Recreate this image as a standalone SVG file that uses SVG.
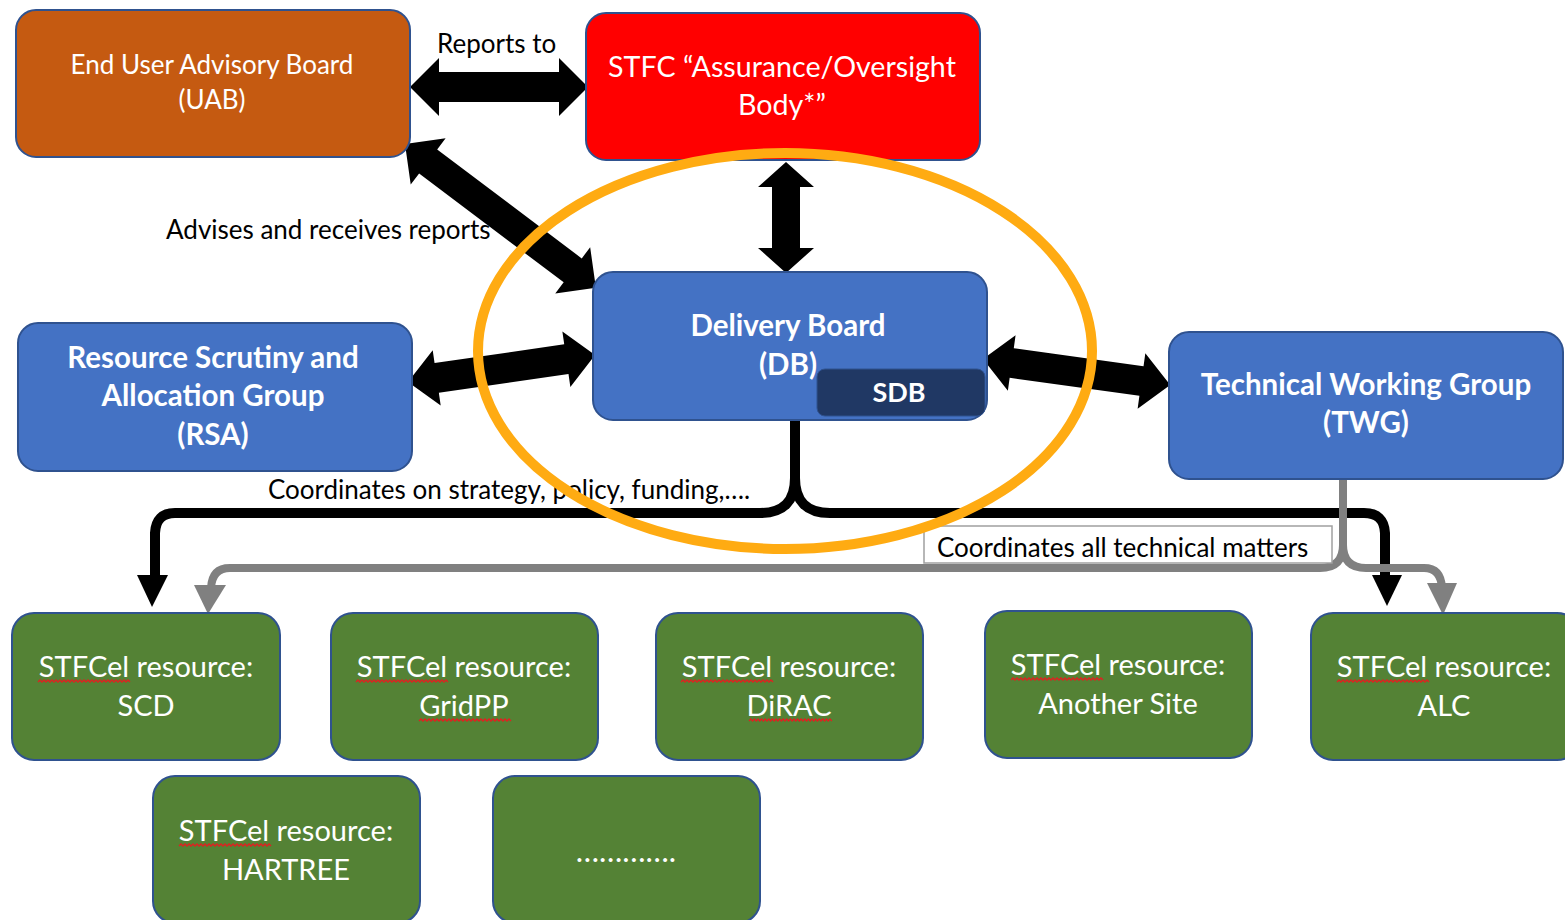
<svg xmlns="http://www.w3.org/2000/svg" width="1565" height="920" viewBox="0 0 1565 920">
<style>
.box{stroke:#2F528F;stroke-width:2}
.orange{fill:#C55A11}
.red{fill:#FF0000}
.blue{fill:#4472C4}
.green{fill:#548235}
.t{font-family:Lato,"Liberation Sans",sans-serif;fill:#fff;text-anchor:middle}
.reg{font-size:26px}
.bold{font-size:29.5px;font-weight:bold}
.g{font-size:29px}
.lbl{font-family:Lato,"Liberation Sans",sans-serif;font-size:26px;fill:#000}
.arr{fill:#000}
.blk{fill:none;stroke:#000;stroke-width:10}
.gry{fill:none;stroke:#808080;stroke-width:8}
.sq{fill:none;stroke:#E02020;stroke-width:1.4}
</style>
<defs>
<path id="squig" d="M0,2 l2,-2 l2,2 l2,-2 l2,2 l2,-2 l2,2 l2,-2 l2,2 l2,-2 l2,2 l2,-2 l2,2 l2,-2 l2,2 l2,-2 l2,2 l2,-2 l2,2 l2,-2 l2,2 l2,-2 l2,2 l2,-2 l2,2 l2,-2 l2,2 l2,-2 l2,2 l2,-2 l2,2 l2,-2 l2,2 l2,-2 l2,2 l2,-2 l2,2 l2,-2 l2,2 l2,-2 l2,2 l2,-2 l2,2 l2,-2 l2,2 l2,-2 l2,2"/>
</defs>

<g id="connectors">
<!-- coordination lines -->
<path class="blk" d="M795,420 V478 Q795,513 760,513 H175 Q156,513 155,533 V580"/>
<path class="blk" d="M795,420 V478 Q795,513 830,513 H1364 Q1384,513 1385,533 V580"/>
<polygon class="arr" points="137,575 168,575 152,607"/>
<polygon class="arr" points="1372,575 1402,575 1387,606"/>
<path class="gry" d="M1343,479 V545 Q1343,568 1320,568 H230 Q212,568 211,588"/>
<path class="gry" d="M1343,479 V545 Q1343,568 1366,568 H1424 Q1441,568 1442,588"/>
<polygon fill="#808080" points="194,585 226,585 208,614"/>
<polygon fill="#808080" points="1427,583 1457,583 1443,615"/>
<!-- double arrows -->
<polygon class="arr" transform="translate(410,87)" points="0,0 29,-29 29,-15 149,-15 149,-29 178,0 149,29 149,15 29,15 29,29"/>
<polygon class="arr" transform="translate(405,144) rotate(37)" points="0,0 29,-29 29,-15 210,-15 210,-29 239,0 210,29 210,15 29,15 29,29"/>
<polygon class="arr" transform="translate(786,162) rotate(90)" points="0,0 25,-28 25,-14 86,-14 86,-28 111,0 86,28 86,14 25,14 25,28"/>
<polygon class="arr" transform="translate(408,382) rotate(-8.2)" points="0,0 29,-28 29,-15 160,-15 160,-28 189,0 160,28 160,15 29,15 29,28"/>
<polygon class="arr" transform="translate(983,359) rotate(7.9)" points="0,0 29,-28 29,-15 160,-15 160,-28 189,0 160,28 160,15 29,15 29,28"/>
</g>

<g id="labels">
<text class="lbl" x="437" y="53">Reports to</text>
<text class="lbl" x="166" y="239">Advises and receives reports</text>
<text class="lbl" x="268" y="499">Coordinates on strategy, policy, funding,….</text>
<rect x="924" y="526" width="408" height="37" fill="#fff" stroke="#A0A0A0" stroke-width="1.5"/>
<text class="lbl" x="937" y="557">Coordinates all technical matters</text>
</g>

<g id="uab">
<rect class="box orange" x="16" y="10" width="394" height="147" rx="20"/>
<text class="t reg" x="212" y="74">End User Advisory Board</text>
<text class="t reg" x="212" y="109">(UAB)</text>
</g>
<g id="stfc">
<rect class="box red" x="586" y="13" width="394" height="147" rx="20"/>
<text class="t reg" x="782" y="77" style="font-size:28.6px">STFC “Assurance/Oversight</text>
<text class="t reg" x="782" y="115" style="font-size:28.6px">Body*”</text>
</g>
<g id="db">
<rect class="box blue" x="593" y="272" width="394" height="148" rx="20"/>
<text class="t bold" x="788" y="336">Delivery Board</text>
<text class="t bold" x="788" y="375">(DB)</text>
</g>
<g id="sdb">
<rect x="817" y="369" width="168" height="47" rx="8" fill="#203864" stroke="#2F528F" stroke-width="1"/>
<text class="t bold" x="899" y="402" style="font-size:27px">SDB</text>
</g>
<g id="rsa">
<rect class="box blue" x="18" y="323" width="394" height="148" rx="20"/>
<text class="t bold" x="213" y="368">Resource Scrutiny and</text>
<text class="t bold" x="213" y="406">Allocation Group</text>
<text class="t bold" x="213" y="445">(RSA)</text>
</g>
<g id="twg">
<rect class="box blue" x="1169" y="332" width="394" height="147" rx="20"/>
<text class="t bold" x="1366" y="395">Technical Working Group</text>
<text class="t bold" x="1366" y="433">(TWG)</text>
</g>

<g id="scd">
<rect class="box green" x="12" y="613" width="268" height="147" rx="22"/>
<text class="t g" x="146" y="677">STFCel resource:</text>
<text class="t g" x="146" y="716">SCD</text>
<use href="#squig" class="sq" x="38" y="680"/>
</g>
<g id="gridpp">
<rect class="box green" x="331" y="613" width="267" height="147" rx="22"/>
<text class="t g" x="464" y="677">STFCel resource:</text>
<text class="t g" x="464" y="716">GridPP</text>
<use href="#squig" class="sq" x="356" y="680"/>
<use href="#squig" class="sq" x="419" y="719"/>
</g>
<g id="dirac">
<rect class="box green" x="656" y="613" width="267" height="147" rx="22"/>
<text class="t g" x="789" y="677">STFCel resource:</text>
<text class="t g" x="789" y="716">DiRAC</text>
<use href="#squig" class="sq" x="681" y="680"/>
<use href="#squig" class="sq" x="749" y="719" transform="translate(749,0) scale(0.9,1) translate(-749,0)"/>
</g>
<g id="another">
<rect class="box green" x="985" y="611" width="267" height="147" rx="22"/>
<text class="t g" x="1118" y="675">STFCel resource:</text>
<text class="t g" x="1118" y="714">Another Site</text>
<use href="#squig" class="sq" x="1011" y="678"/>
</g>
<g id="alc">
<rect class="box green" x="1311" y="613" width="268" height="147" rx="22"/>
<text class="t g" x="1444" y="677">STFCel resource:</text>
<text class="t g" x="1444" y="716">ALC</text>
<use href="#squig" class="sq" x="1337" y="680"/>
</g>
<g id="hartree">
<rect class="box green" x="153" y="776" width="267" height="147" rx="22"/>
<text class="t g" x="286" y="841">STFCel resource:</text>
<text class="t g" x="286" y="880">HARTREE</text>
<use href="#squig" class="sq" x="179" y="844"/>
</g>
<g id="more">
<rect class="box green" x="493" y="776" width="267" height="147" rx="22"/>
<text class="t g" x="626" y="862" style="font-size:31px">………….</text>
</g>

<ellipse id="focus" cx="785" cy="351" rx="307" ry="198" fill="none" stroke="#FFAB12" stroke-width="10"/>
</svg>
